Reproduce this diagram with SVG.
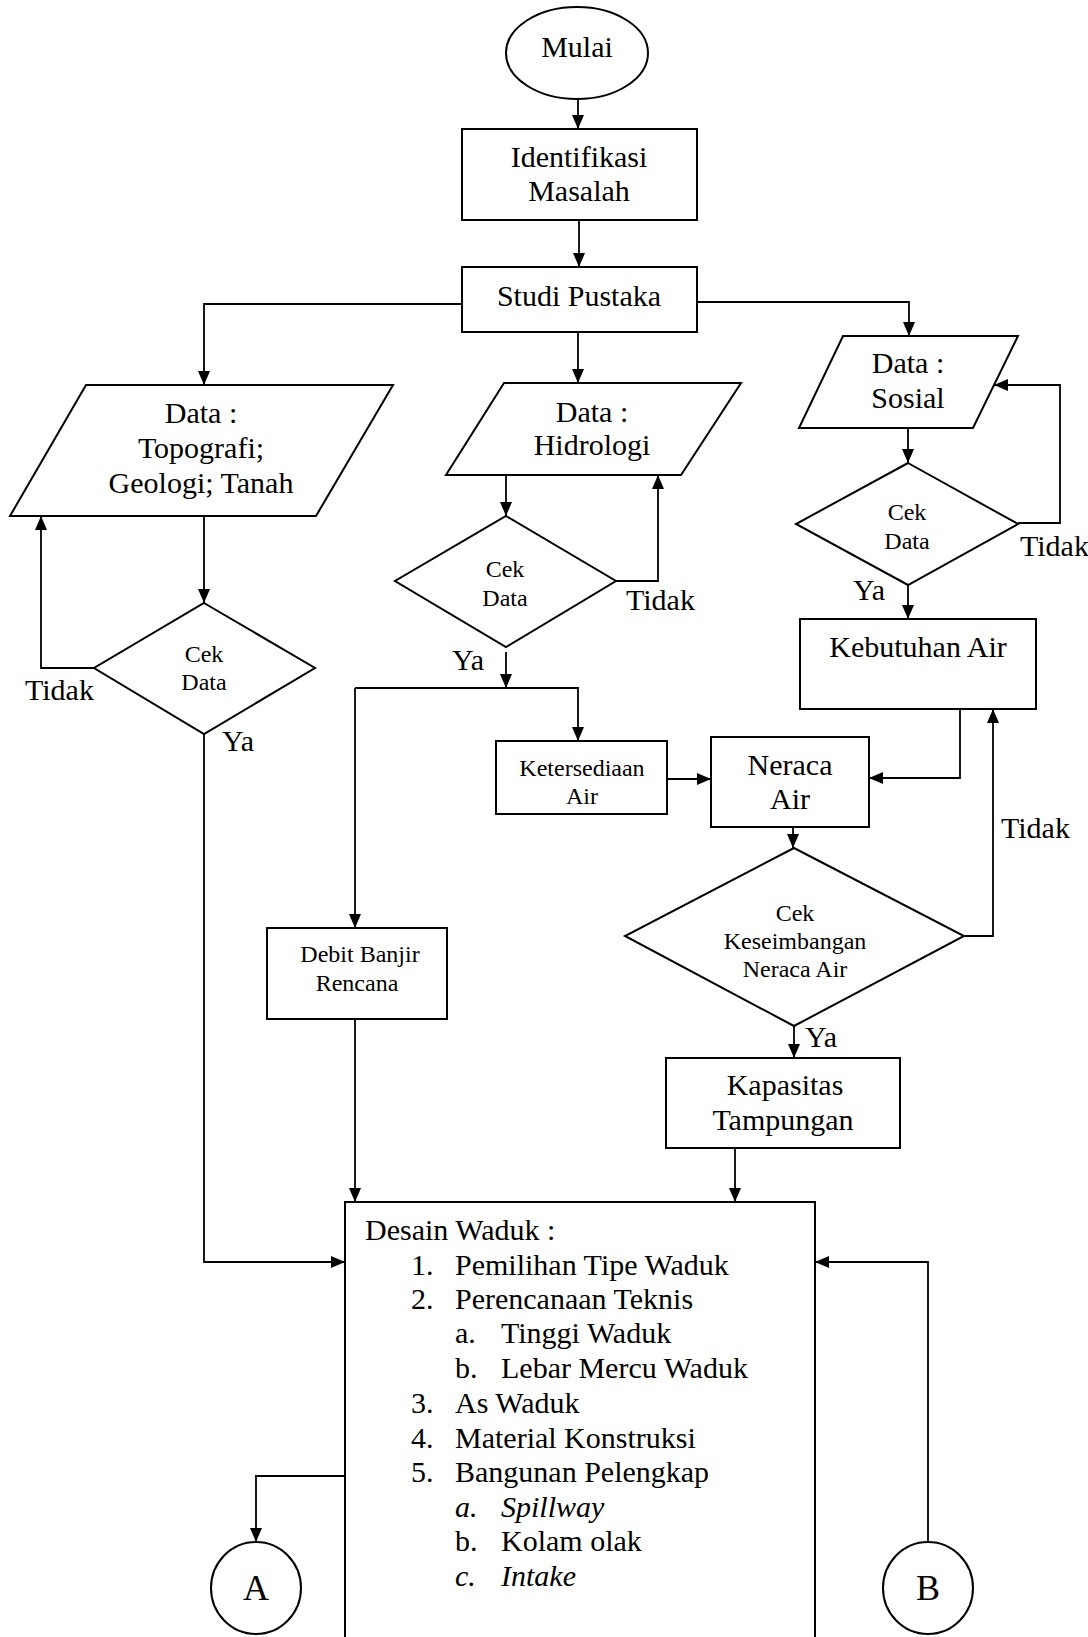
<svg xmlns="http://www.w3.org/2000/svg" width="1088" height="1637" viewBox="0 0 1088 1637">
<defs>
<marker id="ah" markerUnits="userSpaceOnUse" markerWidth="14" markerHeight="12" refX="14" refY="6" orient="auto">
<path d="M0,0 L14,6 L0,12 z" fill="#000"/>
</marker>
<style>
.s{fill:#fff;stroke:#000;stroke-width:2}
.c{fill:none;stroke:#000;stroke-width:1.8;marker-end:url(#ah)}
text{font-family:"Liberation Serif","Times New Roman",serif;fill:#000}
.t{font-size:30px}
.m{font-size:24px}
.big{font-size:36px}
.mid{text-anchor:middle}
.i{font-style:italic}
</style>
</defs>
<rect width="1088" height="1637" fill="#fff"/>
<g id="connectors">
<path class="c" d="M578,99 V129"/>
<path class="c" d="M579,220 V267"/>
<path class="c" d="M462,304 H204 V385"/>
<path class="c" d="M578,332 V383"/>
<path class="c" d="M697,302 H909 V336"/>
<path class="c" d="M204,516 V603"/>
<path class="c" d="M94,668 H41 V516"/>
<path class="c" d="M204,734 V1262 H345"/>
<path class="c" d="M506,475 V516"/>
<path class="c" d="M616,581 H658 V475"/>
<path class="c" d="M506,652 V688"/>
<path class="c" d="M355,688 H578 V741"/>
<path class="c" d="M355,688 V928"/>
<path class="c" d="M667,779 H711"/>
<path class="c" d="M960,709 V778 H869"/>
<path class="c" d="M793,827 V848"/>
<path class="c" d="M964,936 H993 V709"/>
<path class="c" d="M794,1026 V1058"/>
<path class="c" d="M735,1148 V1202"/>
<path class="c" d="M355,1019 V1202"/>
<path class="c" d="M908,428 V463"/>
<path class="c" d="M1018,523 H1060 V385 H994"/>
<path class="c" d="M908,585 V619"/>
<path class="c" d="M345,1476 H256 V1542"/>
<path class="c" d="M928,1542 V1262 H815"/>
</g>
<g id="labels">
<text class="t" x="25" y="700">Tidak</text>
<text class="t" x="222" y="751">Ya</text>
<text class="t" x="626" y="610">Tidak</text>
<text class="t" x="452" y="670">Ya</text>
<text class="t" x="1020" y="556">Tidak</text>
<text class="t" x="853" y="600">Ya</text>
<text class="t" x="1001" y="838">Tidak</text>
<text class="t" x="805" y="1047">Ya</text>
</g>
<g id="mulai">
<ellipse class="s" cx="577" cy="53" rx="71" ry="46"/>
<text class="t mid" x="577" y="57">Mulai</text>
</g>
<g id="identifikasi">
<rect class="s" x="462" y="129" width="235" height="91"/>
<text class="t mid" x="579" y="167">Identifikasi</text>
<text class="t mid" x="579" y="201">Masalah</text>
</g>
<g id="studi">
<rect class="s" x="462" y="267" width="235" height="65"/>
<text class="t mid" x="579" y="306">Studi Pustaka</text>
</g>
<g id="data-topografi">
<polygon class="s" points="86,385 393,385 316,516 10,516"/>
<text class="t mid" x="201" y="423">Data :</text>
<text class="t mid" x="201" y="458">Topografi;</text>
<text class="t mid" x="201" y="493">Geologi; Tanah</text>
</g>
<g id="cek-topografi">
<polygon class="s" points="204,603 315,668 204,734 94,668"/>
<text class="m mid" x="204" y="662">Cek</text>
<text class="m mid" x="204" y="690">Data</text>
</g>
<g id="data-hidrologi">
<polygon class="s" points="504,383 741,383 681,475 446,475"/>
<text class="t mid" x="592" y="422">Data :</text>
<text class="t mid" x="592" y="455">Hidrologi</text>
</g>
<g id="cek-hidrologi">
<polygon class="s" points="506,516 616,581 506,647 395,581"/>
<text class="m mid" x="505" y="577">Cek</text>
<text class="m mid" x="505" y="606">Data</text>
</g>
<g id="data-sosial">
<polygon class="s" points="843,336 1018,336 973,428 799,428"/>
<text class="t mid" x="908" y="373">Data :</text>
<text class="t mid" x="908" y="408">Sosial</text>
</g>
<g id="cek-sosial">
<polygon class="s" points="908,463 1018,524 908,585 796,524"/>
<text class="m mid" x="907" y="520">Cek</text>
<text class="m mid" x="907" y="549">Data</text>
</g>
<g id="kebutuhan">
<rect class="s" x="800" y="619" width="236" height="90"/>
<text class="t mid" x="918" y="657">Kebutuhan Air</text>
</g>
<g id="ketersediaan">
<rect class="s" x="496" y="741" width="171" height="73"/>
<text class="m mid" x="582" y="776">Ketersediaan</text>
<text class="m mid" x="582" y="804">Air</text>
</g>
<g id="neraca">
<rect class="s" x="711" y="737" width="158" height="90"/>
<text class="t mid" x="790" y="775">Neraca</text>
<text class="t mid" x="790" y="809">Air</text>
</g>
<g id="cek-keseimbangan">
<polygon class="s" points="794,848 964,936 794,1026 625,936"/>
<text class="m mid" x="795" y="921">Cek</text>
<text class="m mid" x="795" y="949">Keseimbangan</text>
<text class="m mid" x="795" y="977">Neraca Air</text>
</g>
<g id="debit">
<rect class="s" x="267" y="928" width="180" height="91"/>
<text class="m mid" x="360" y="962">Debit Banjir</text>
<text class="m mid" x="357" y="991">Rencana</text>
</g>
<g id="kapasitas">
<rect class="s" x="666" y="1058" width="234" height="90"/>
<text class="t mid" x="785" y="1095">Kapasitas</text>
<text class="t mid" x="783" y="1130">Tampungan</text>
</g>
<g id="desain">
<rect class="s" x="345" y="1202" width="470" height="460"/>
<text class="t" x="365" y="1240">Desain Waduk :</text>
<text class="t" x="411" y="1275">1.</text><text class="t" x="455" y="1275">Pemilihan Tipe Waduk</text>
<text class="t" x="411" y="1309">2.</text><text class="t" x="455" y="1309">Perencanaan Teknis</text>
<text class="t" x="455" y="1343">a.</text><text class="t" x="501" y="1343">Tinggi Waduk</text>
<text class="t" x="455" y="1378">b.</text><text class="t" x="501" y="1378">Lebar Mercu Waduk</text>
<text class="t" x="411" y="1413">3.</text><text class="t" x="455" y="1413">As Waduk</text>
<text class="t" x="411" y="1448">4.</text><text class="t" x="455" y="1448">Material Konstruksi</text>
<text class="t" x="411" y="1482">5.</text><text class="t" x="455" y="1482">Bangunan Pelengkap</text>
<text class="t i" x="455" y="1517">a.</text><text class="t i" x="501" y="1517">Spillway</text>
<text class="t" x="455" y="1551">b.</text><text class="t" x="501" y="1551">Kolam olak</text>
<text class="t i" x="455" y="1586">c.</text><text class="t i" x="501" y="1586">Intake</text>
</g>
<g id="konektor-a">
<ellipse class="s" cx="256" cy="1588" rx="45" ry="46"/>
<text class="big mid" x="256" y="1600">A</text>
</g>
<g id="konektor-b">
<ellipse class="s" cx="928" cy="1588" rx="45" ry="46"/>
<text class="big mid" x="928" y="1600">B</text>
</g>
</svg>
